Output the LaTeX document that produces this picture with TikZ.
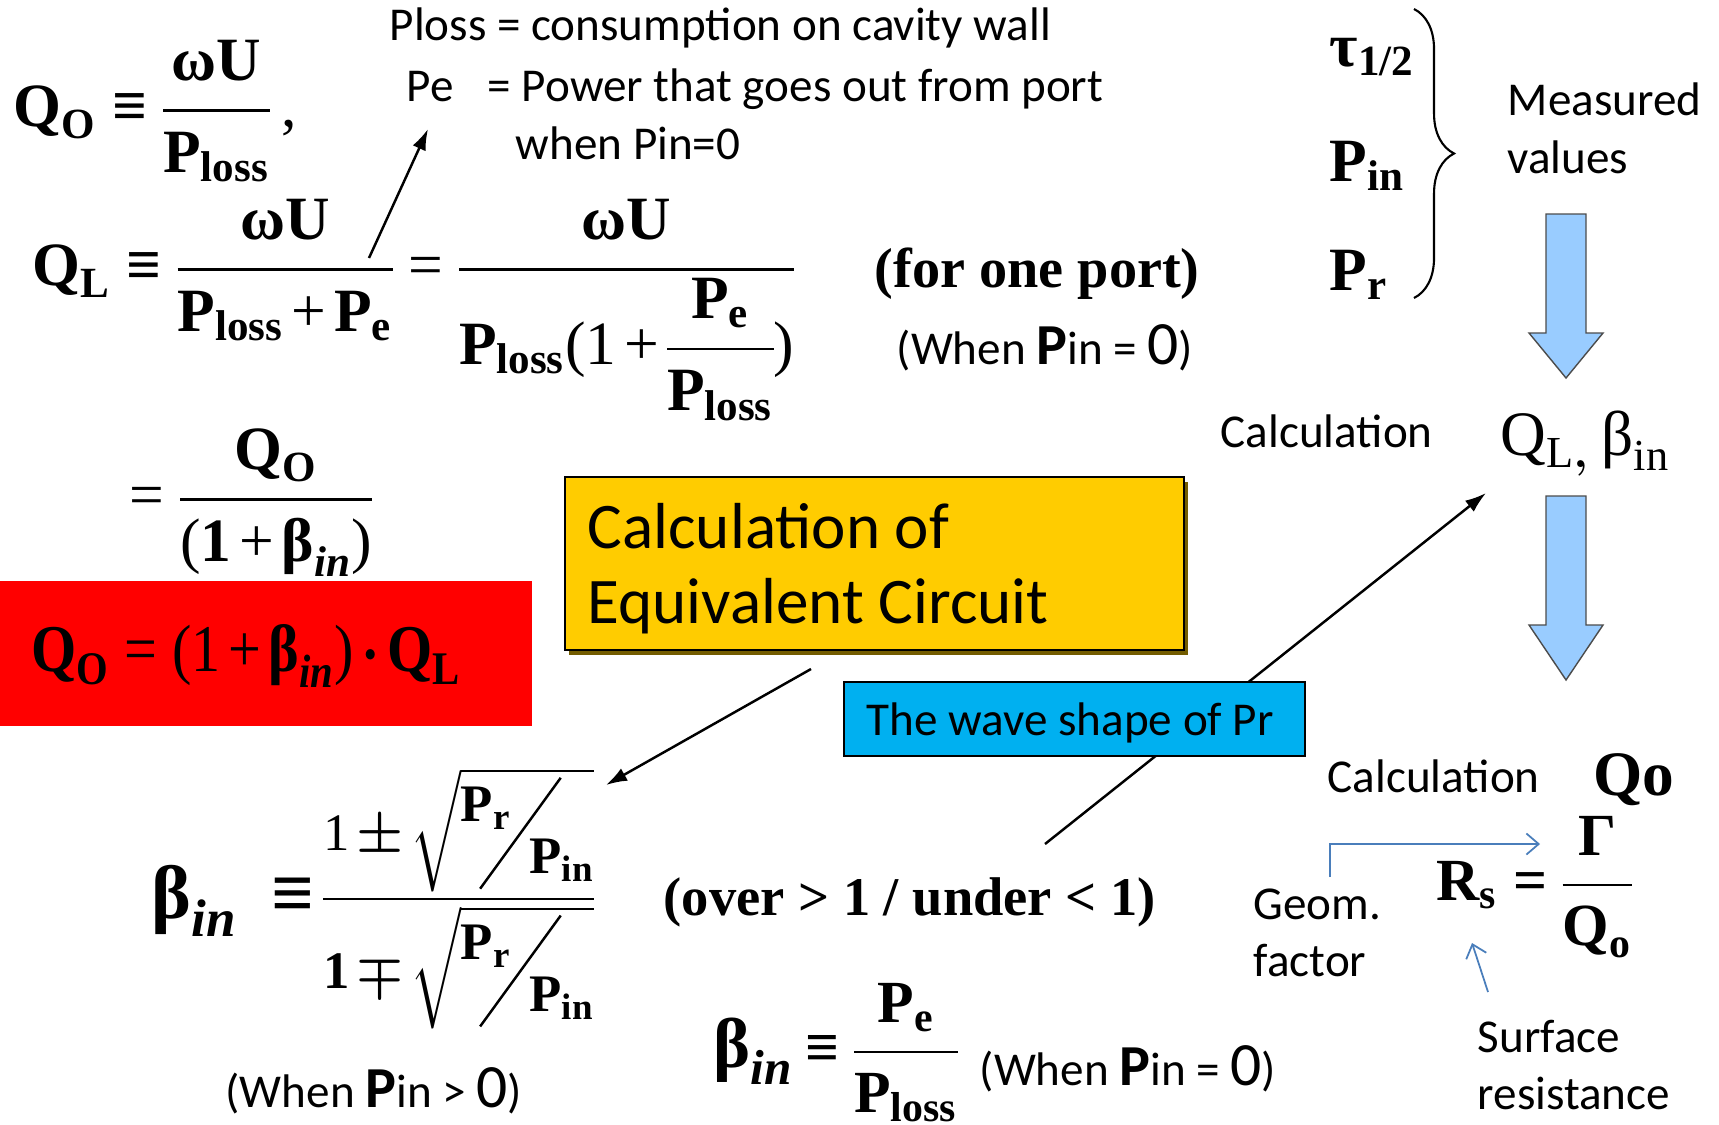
\RequirePackage{fix-cm}
\documentclass[tikz,border=0pt]{standalone}
\usepackage{amsmath}
\usepackage{fontspec}
\setmainfont{Carlito}
\newfontfamily\tms{Liberation Serif}
\usepackage{xcolor}
\usepackage{graphicx}
\usetikzlibrary{arrows.meta, positioning, decorations.pathreplacing, shadows}

\definecolor{boxyellow}{HTML}{FFCC00}
\definecolor{boxcyan}{HTML}{00B0F0}
\definecolor{arrowblue}{HTML}{99CCFF}
\definecolor{linkblue}{HTML}{4A7EBB}

\newcommand{\F}[1]{\text{\tms\bfseries #1}}
\newcommand{\FI}[1]{\text{\tms\bfseries\itshape #1}}
\newcommand{\R}[1]{\text{\tms #1}}
\newcommand{\eqv}{\mathrel{\F{≡}}}
\newcommand{\eqs}{\mathrel{\R{=}}}
\newcommand{\pls}{\mathbin{\R{+}}}
\newcommand{\eqsetup}{\thickmuskip=4mu\relax\medmuskip=2mu\relax\nulldelimiterspace=0pt\relax}
% P_r over P_in with a long slash
\newcommand{\slf}{\raisebox{0.29cm}{$\F{P}_{\F{r}}$}\kern-0.32cm\raisebox{-0.39cm}{\rotatebox{54}{\rule{1.37cm}{0.7pt}}}\kern-0.32cm\raisebox{-0.23cm}{$\F{P}_{\F{in}}$}}
\newcommand{\pbig}{{\fontsize{16.5}{16.5}\selectfont\bfseries P}}
\newcommand{\zbig}{{\fontsize{17.5}{17.5}\selectfont 0}}

\begin{document}
\begin{tikzpicture}[x=0.01cm, y=-0.01cm,
    lbl/.style={inner sep=0, anchor=base west, font=\fontsize{13.4}{16}\selectfont},
    big/.style={inner sep=0, anchor=base west, font=\fontsize{18.5}{20}\selectfont},
    eq/.style={inner sep=0, anchor=base west, font=\fontsize{#1}{#1}\selectfont\boldmath,
      execute at begin node=\eqsetup},
    eq/.default=17.5,
    tms/.style={inner sep=0, anchor=base west, font=\fontsize{#1}{#1}\selectfont\tms\bfseries},
    arr/.style={-{Latex[length=6pt, width=4pt]}, line width=0.7pt},
    thinarr/.style={-{Straight Barb[length=3.5pt, width=6pt]}, draw=linkblue, line width=0.5pt},
    bigarrow/.style={fill=arrowblue, draw=black!70, line width=0.4pt},
    ybox/.style={draw, fill=boxyellow, line width=0.6pt, minimum width=6.19cm, minimum height=1.73cm,
      drop shadow={shadow xshift=0.04cm, shadow yshift=-0.05cm, fill=black!55!boxyellow, opacity=1}},
    cbox/.style={draw, fill=boxcyan, line width=0.6pt, minimum width=4.61cm, minimum height=0.74cm},
    redbox/.style={fill=red, minimum width=5.32cm, minimum height=1.45cm}
  ]
  \useasboundingbox (0,0) rectangle (1719,1124);

  % definitions at the top
  \node[lbl] (ploss) at (389,40) {Ploss = consumption on cavity wall};
  \node[lbl] (pe) at (406,101) {Pe\enspace\ = Power that goes out from port};
  \node[lbl] (pin0) at (515,159) {when Pin=0};
  \coordinate (petail) at (369,258);
  \coordinate (pehead) at (428,129);
  \draw[arr] (petail) -- (pehead);

  % quality factors
  \node[eq] (qo) at (13,126) {$\F{Q}_{\F{O}} \eqv \dfrac{\F{ωU}}{\F{P}_{\F{loss}}}\,\R{,}$};
  \node[eq] (ql) at (32,285) {$\F{Q}_{\F{L}} \eqv \dfrac{\F{ωU}}{\F{P}_{\F{loss}}\pls\F{P}_{\F{e}}}
    \eqs \dfrac{\F{ωU}}{\F{P}_{\F{loss}}\R{(}\R{1}\pls\dfrac{\F{P}_{\F{e}}}{\F{P}_{\F{loss}}}\R{)}}$};
  \node[tms=16] (oneport) at (874,287) {(for one port)};
  \node[lbl] (when1) at (896,364) {(When \pbig in = \zbig)};
  \node[eq] (qo2) at (129,515) {$\eqs \dfrac{\F{Q}_{\F{O}}}{\R{(}\F{1}\pls\F{β}_{\FI{in}}\R{)}}$};
  \node[redbox] (redfill) at (266,653.5) {};
  \node[eq=19] (qored) at (31,671) {\scalebox{0.87}[1]{$\F{Q}_{\F{O}} \eqs \R{(}\R{1}\pls\F{β}_{\FI{in}}\R{)}\cdot\F{Q}_{\F{L}}$}};

  % measured values
  \node[eq] (tau) at (1329,66) {$\F{τ}_{\F{1/2}}$};
  \node[eq] (pin) at (1329,181) {$\F{P}_{\F{in}}$};
  \node[eq] (pr) at (1329,290) {$\F{P}_{\F{r}}$};
  \coordinate (brtop) at (1414,9);
  \coordinate (brbot) at (1414,298);
  \draw[decorate, decoration={brace, amplitude=0.4cm}, line width=0.6pt] (brtop) -- (brbot);
  \node[lbl] (meas) at (1507,115) {Measured};
  \node[lbl] (vals) at (1507,173) {values};

  \foreach \t/\h/\b in {214/333/378, 496/625/680}
    \filldraw[bigarrow] (1546,\t) -- (1586,\t) -- (1586,\h) -- (1603,\h) -- (1566,\b) -- (1529,\h) -- (1546,\h) -- cycle;

  \node[lbl] (calc1) at (1220,447) {Calculation};
  \node[eq=18] (qlb) at (1500,455) {$\R{Q}_{\R{L},}\,\R{β}_{\R{in}}$};

  % arrows behind the boxes
  \coordinate (wtail) at (1045,844);
  \coordinate (whead) at (1486,493);
  \draw[arr] (wtail) -- (whead);
  \coordinate (etail) at (811,669);
  \coordinate (ehead) at (606,785);
  \draw[arr] (etail) -- (ehead);

  \node[ybox] (equiv) at (874.5,563.5) {};
  \node[big] (equiv1) at (587,548) {Calculation of};
  \node[big] (equiv2) at (587,623) {Equivalent Circuit};
  \node[cbox] (wave) at (1074.5,719) {};
  \node[lbl] (wavetxt) at (866,735) {The wave shape of Pr};

  % coupling
  \node[eq=15] (bin) at (151,912) {\raisebox{-0.06cm}{\fontsize{21.5}{22}\selectfont\boldmath$\F{β}_{\FI{in}}\,\eqv$}\,$\dfrac{\R{1}\pm\sqrt{\slf}}{\F{1}\mp\sqrt{\slf}}$};
  \node[tms=15.5] (over) at (663,915) {(over > 1 / under < 1)};
  \node[lbl] (when2) at (225,1107) {(When \pbig in > \zbig)};
  \node[eq=17] (bpe) at (713,1067) {\mbox{\fontsize{20}{20}\selectfont\boldmath$\F{β}_{\FI{in}}$}$\,\eqv\dfrac{\F{P}_{\F{e}}}{\F{P}_{\F{loss}}}$};
  \node[lbl] (when3) at (979,1085) {(When \pbig in = \zbig)};

  % surface resistance
  \node[lbl] (calc2) at (1327,792) {Calculation};
  \node[tms=18] (qo3) at (1593,795) {Qo};
  \node[eq=17] (rs) at (1436,900) {$\F{R}_{\F{s}} \mathrel{\F{=}} \dfrac{\F{Γ}}{\F{Q}_{\F{o}}}$};
  \node[lbl] (geom) at (1253,919) {Geom.};
  \node[lbl] (fact) at (1253,976) {factor};
  \coordinate (gtail) at (1330,877);
  \coordinate (ghead) at (1540,844);
  \draw[thinarr] (gtail) |- (ghead);
  \coordinate (stail) at (1488,992);
  \coordinate (shead) at (1472,943);
  \draw[thinarr] (stail) -- (shead);
  \node[lbl] (surf) at (1477,1052) {Surface};
  \node[lbl] (resi) at (1477,1109) {resistance};
\end{tikzpicture}
\end{document}
